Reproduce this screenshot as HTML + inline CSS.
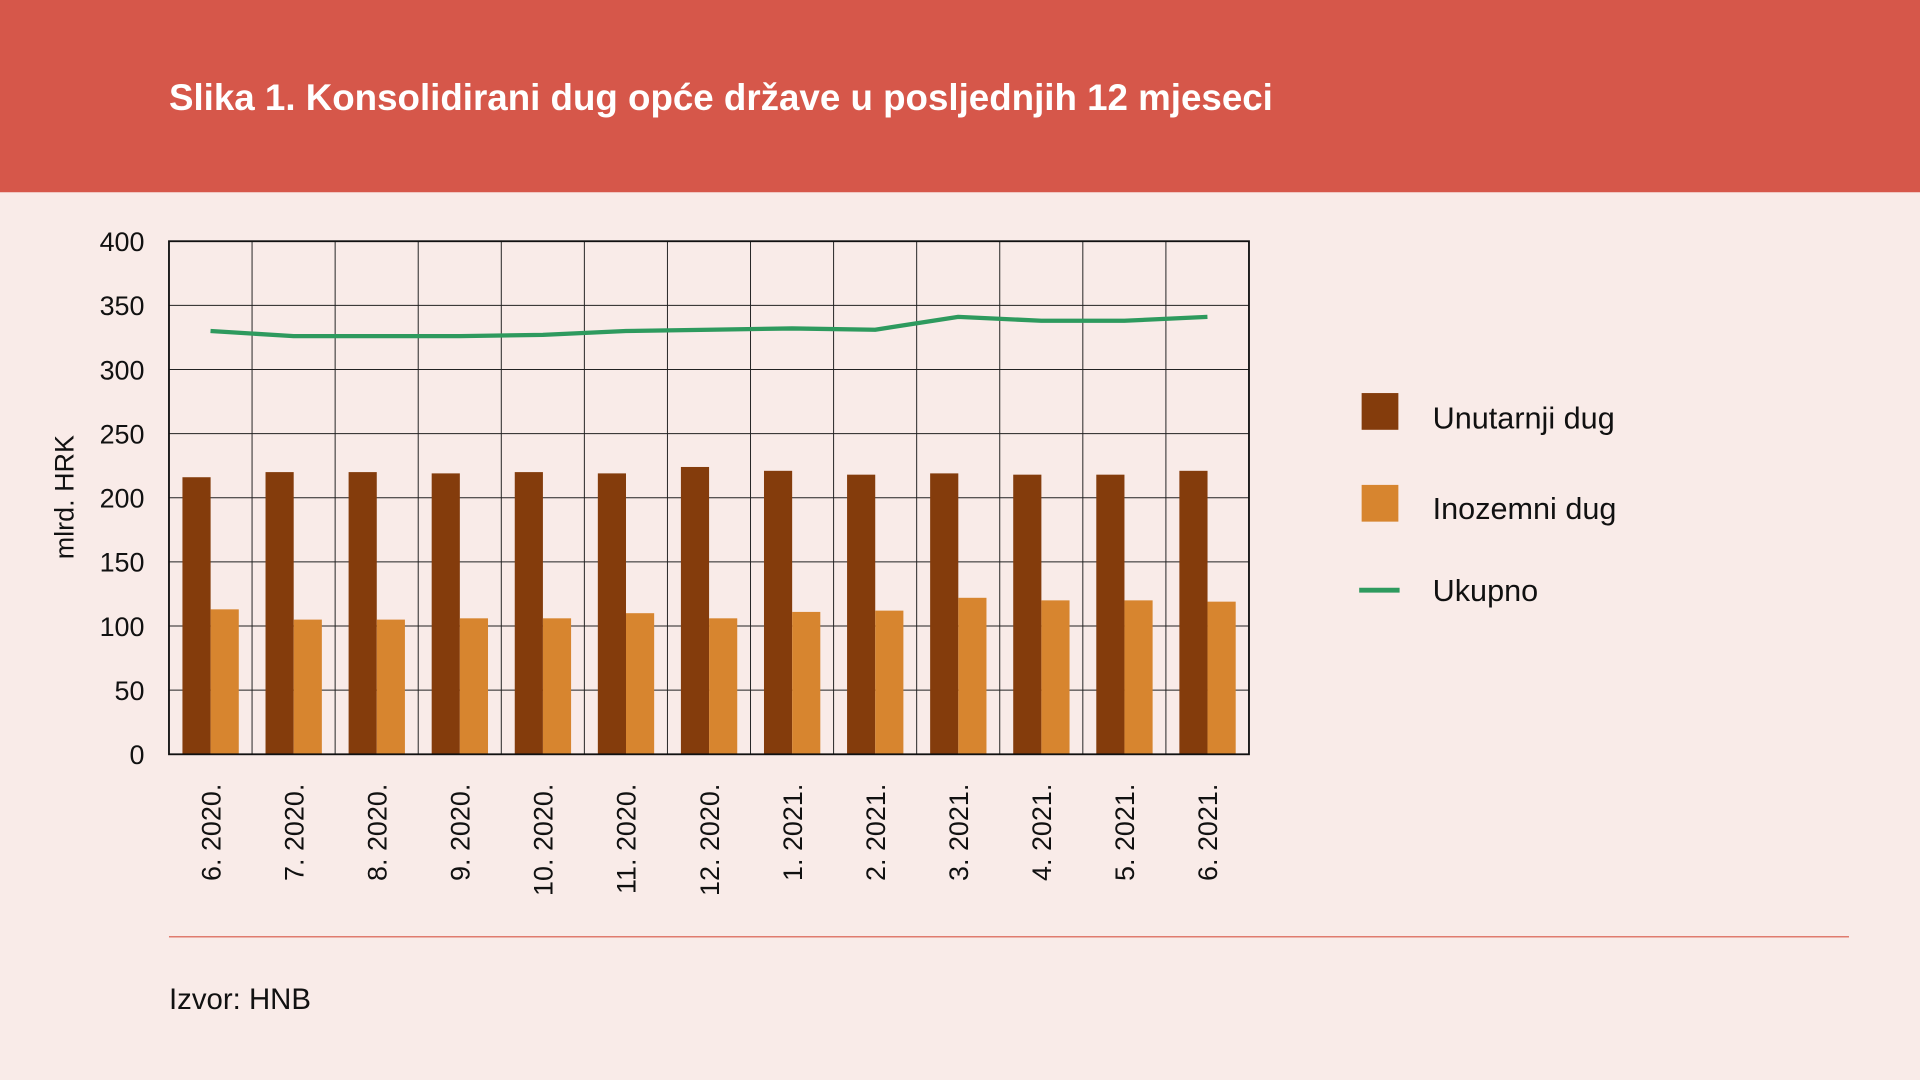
<!DOCTYPE html>
<html><head><meta charset="utf-8"><style>
html,body{margin:0;padding:0;background:#f9ebe8;}
svg{display:block;}
.cond{font-family:"Liberation Sans Narrow","Liberation Sans",sans-serif;}
</style></head><body>
<svg id="chart" width="1920" height="1080" viewBox="0 0 1568 882" xmlns="http://www.w3.org/2000/svg">
<rect x="0" y="0" width="1568" height="882" fill="#f9ebe8"/>
<rect x="0" y="0" width="1568" height="157" fill="#d6574a"/>
<text x="138" y="90" fill="#fff" font-family="Liberation Sans, sans-serif" font-weight="bold" font-size="30">Slika 1. Konsolidirani dug opće države u posljednjih 12 mjeseci</text>
<g id="plot"></g>
<text class="cond" transform="translate(60,406) rotate(-90)" text-anchor="middle" font-size="22" fill="#111">mlrd. HRK</text>
<rect x="1112" y="321" width="30" height="30" fill="#843c0c"/>
<text class="cond" x="1170" y="350" font-size="25" fill="#111">Unutarnji dug</text>
<rect x="1112" y="396" width="30" height="30" fill="#d7852f"/>
<text class="cond" x="1170" y="424" font-size="25" fill="#111">Inozemni dug</text>
<line x1="1110" y1="482" x2="1143" y2="482" stroke="#2e9a5e" stroke-width="4"/>
<text class="cond" x="1170" y="491" font-size="25" fill="#111">Ukupno</text>
<line x1="138" y1="765" x2="1510" y2="765" stroke="#e07b6e" stroke-width="1.2"/>
<text x="138" y="824" font-family="Liberation Sans, sans-serif" font-size="24" fill="#111">Izvor: HNB</text>
</svg>
<script>
const categories=["6. 2020.","7. 2020.","8. 2020.","9. 2020.","10. 2020.","11. 2020.","12. 2020.","1. 2021.","2. 2021.","3. 2021.","4. 2021.","5. 2021.","6. 2021."];
const domestic=[216,220,220,219,220,219,224,221,218,219,218,218,221];
const foreign=[113,105,105,106,106,110,106,111,112,122,120,120,119];
const total=[330,326,326,326,327,330,331,332,331,341,338,338,341];
const yTicks=[0,50,100,150,200,250,300,350,400];
const NS="http://www.w3.org/2000/svg";
const g=document.getElementById('plot');
const X0=138,X1=1020,Y0=616,Y1=197,YMAX=400;
const bw=(X1-X0)/categories.length;
const y=v=>Y0-(v/YMAX)*(Y0-Y1);
const x=i=>X0+i*bw;
function mk(t,a){const e=document.createElementNS(NS,t);for(const k in a)e.setAttribute(k,a[k]);g.appendChild(e);return e;}
yTicks.forEach(v=>{
 const l=mk('line',{x1:X0,x2:X1,y1:y(v),y2:y(v),stroke:'#222','stroke-width':0.8});
 
 
 const t=mk('text',{x:118,y:y(v)+8,'text-anchor':'end','font-size':22,fill:'#111',class:'cond'});
 t.textContent=v;
 
 
});
for(let i=0;i<=categories.length;i++){
 const l=mk('line',{x1:x(i),x2:x(i),y1:Y1,y2:Y0,stroke:'#222','stroke-width':0.8});
 
 
}
categories.forEach((c,i)=>{
 const b1=mk('rect',{x:x(i)+11,y:y(domestic[i]),width:23,height:Y0-y(domestic[i]),fill:'#843c0c'});
 
 
 const b2=mk('rect',{x:x(i)+34,y:y(foreign[i]),width:23,height:Y0-y(foreign[i]),fill:'#d7852f'});
 
 
 const cx=x(i)+bw/2+8;
 const t=mk('text',{transform:`translate(${cx},640) rotate(-90)`,'text-anchor':'end','font-size':22,fill:'#111',class:'cond'});
 t.textContent=c;
 
 
});
const frame=mk('rect',{x:X0,y:Y1,width:X1-X0,height:Y0-Y1,fill:'none',stroke:'#111','stroke-width':1.5});


const pts=total.map((v,i)=>`${x(i)+bw/2},${y(v)}`).join(' ');
const pl=mk('polyline',{points:pts,fill:'none',stroke:'#2e9a5e','stroke-width':3.5,'stroke-linejoin':'round'});


</script>
</body></html>
